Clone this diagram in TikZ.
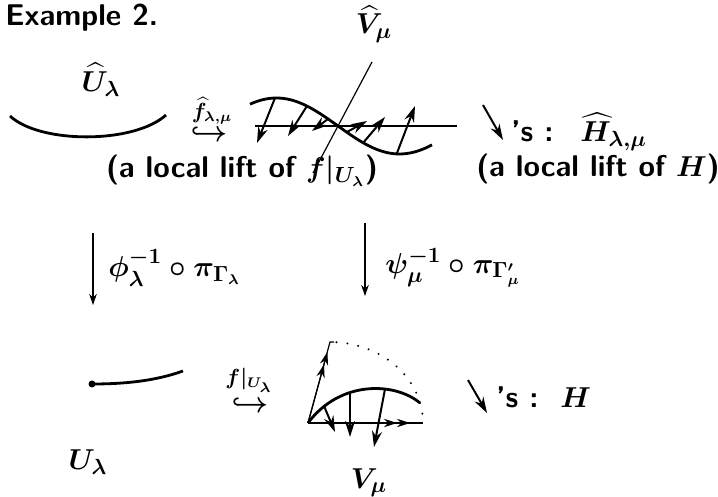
\documentclass[tikz,border=0pt]{standalone}
\usepackage{amsmath,amssymb}
\usetikzlibrary{arrows.meta}
\begin{document}
\begin{tikzpicture}[x=0.5pt,y=-0.5pt,
  font=\fontsize{15}{18}\selectfont\sffamily\bfseries\boldmath,
  vec/.style={line width=1pt,-{Stealth[length=8pt,width=5pt]}},
  dvec/.style={semithick,-{Stealth[length=6.5pt,width=4.2pt]Stealth[length=6.5pt,width=4.2pt]}},
  map/.style={semithick,-{Stealth[length=5.5pt,width=3.8pt]}},
  crv/.style={line width=1.4pt},
  lbl/.style={inner sep=1pt}]
  \useasboundingbox (0,0) rectangle (718,497);
  \node[anchor=base west,inner sep=0pt] (title) at (5,26) {Example 2.};
  % upper row
  \node[lbl] (uhat) at (101,80) {$\widehat{U}_{\lambda}$};
  \draw[crv] (10,116) .. controls (40,144) and (134,144) .. (166,115);
  \node[lbl,inner sep=0pt] (fhat) at (212,111) {$\scriptstyle\widehat{f}_{\lambda,\mu}$};
  \node[lbl,inner sep=0pt] (hk1) at (209,134) {$\hookrightarrow$};
  \node[lbl,anchor=base] (liftf) at (242,178) {(a local lift of $f|_{U_{\lambda}}$)};
  \node[lbl] (vhat) at (374,24) {$\widehat{V}_{\mu}$};
  \coordinate (ax1) at (255,126); \coordinate (ax2) at (457,126);
  \coordinate (vt) at (372,62);   \coordinate (vb) at (313,173);
  \draw[semithick] (ax1) -- (ax2);
  \draw[semithick] (vt) -- (vb);
  \draw[crv] plot[domain=250:432,samples=60,smooth] (\x,{126+28*sin((\x-338)/123*180)});
  \foreach \xa/\ya/\xb/\yb in {275/98/257/143, 307/106/288/136, 328/119/312/131,
      347/132/367/121, 363/143/385/117, 397/153/415/106}
    \draw[vec] (\xa,\ya) -- (\xb,\yb);
  \coordinate (s1) at (483,105); \coordinate (e1) at (503,140);
  \draw[vec] (s1) -- (e1);
  \node[lbl,anchor=base west] (hh) at (509,142) {'s :\hspace{0.9em}$\widehat{H}_{\lambda,\mu}$};
  \node[lbl,anchor=base] (lifth) at (598,177) {(a local lift of $H$)};
  % projections
  \coordinate (p1) at (93,233); \coordinate (q1) at (93,305);
  \coordinate (p2) at (365,223); \coordinate (q2) at (365,296);
  \draw[map] (p1) -- (q1);
  \draw[map] (p2) -- (q2);
  \node[lbl,anchor=west] (phi) at (106,268) {$\phi_{\lambda}^{-1}\circ\pi_{\Gamma_{\lambda}}$};
  \node[lbl,anchor=west] (psi) at (383,268) {$\psi_{\mu}^{-1}\circ\pi_{\Gamma'_{\mu}}$};
  % lower row
  \fill (92,384) circle (3.5);
  \draw[crv] (92,384) .. controls (125,384) and (155,381) .. (183,371);
  \node[lbl] (ul) at (88,462) {$U_{\lambda}$};
  \node[lbl,inner sep=0pt] (fr) at (249,380) {$\scriptstyle f|_{U_{\lambda}}$};
  \node[lbl,inner sep=0pt] (hk2) at (250,405) {$\hookrightarrow$};
  \coordinate (o) at (308,423);
  \coordinate (xe) at (423,423); \coordinate (ye) at (330,342);
  \draw[semithick] (o) -- (xe);
  \draw[dvec] (o) -- (410,423);
  \draw[semithick] (o) -- (ye) -- (334,342);
  \draw[dvec] (o) -- (327.4,352);
  \draw[line width=1.1pt,line cap=round,dash pattern=on 0pt off 5.5pt]
    plot[domain=86:1,samples=40,smooth] ({330+93*cos(\x)},{423-81*sin(\x)});
  \draw[crv] (o) .. controls (340,380) and (395,382) .. (420,403);
  \foreach \xa/\ya/\xb/\yb in {324/406/335/432, 350/394/350/437, 385/389/374/447}
    \draw[vec] (\xa,\ya) -- (\xb,\yb);
  \node[lbl] (vm) at (369,483) {$V_{\mu}$};
  \coordinate (s2) at (468,380); \coordinate (e2) at (487,413);
  \draw[vec] (s2) -- (e2);
  \node[lbl,anchor=base west] (hl) at (494,408) {'s :\ \ $H$};
\end{tikzpicture}
\end{document}
